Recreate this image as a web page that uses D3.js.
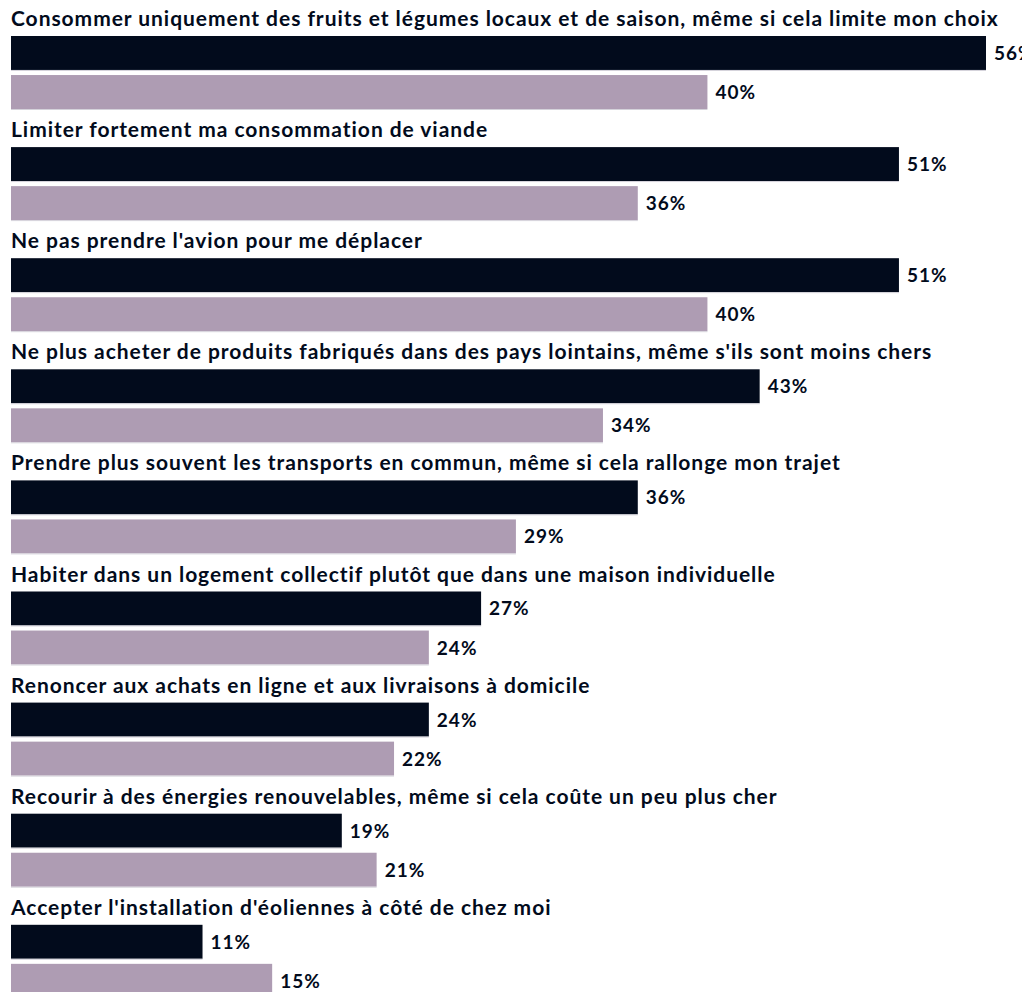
<!DOCTYPE html>
<html>
<head>
<meta charset="utf-8">
<script src="https://cdn.jsdelivr.net/npm/d3@7"></script>
<style>
  html, body { margin: 0; padding: 0; background: #ffffff; }
  svg { display: block; overflow: hidden; }
  text { font-family: "Lato", "Noto Sans", sans-serif; font-weight: 700; fill: #020b1c; }
</style>
</head>
<body>
<svg id="chart" width="1022" height="992"></svg>
<script>
// Survey items and the two series (percentages)
const categories = [
  "Consommer uniquement des fruits et légumes locaux et de saison, même si cela limite mon choix",
  "Limiter fortement ma consommation de viande",
  "Ne pas prendre l'avion pour me déplacer",
  "Ne plus acheter de produits fabriqués dans des pays lointains, même s'ils sont moins chers",
  "Prendre plus souvent les transports en commun, même si cela rallonge mon trajet",
  "Habiter dans un logement collectif plutôt que dans une maison individuelle",
  "Renoncer aux achats en ligne et aux livraisons à domicile",
  "Recourir à des énergies renouvelables, même si cela coûte un peu plus cher",
  "Accepter l'installation d'éoliennes à côté de chez moi"
];
const seriesA = [56, 51, 51, 43, 36, 27, 24, 19, 11];
const seriesB = [40, 36, 40, 34, 29, 24, 22, 21, 15];
const seriesColors = ["#020b1c", "#ae9cb3"];

const svg = d3.select("#chart");

const x = d3.scaleLinear().domain([0, 56]).range([11, 986]);
const groupY = d3.scaleBand().domain(categories).range([36, 36 + 111.1 * categories.length]).padding(0);
const barY = d3.scaleBand().domain([0, 1]).range([0, 73]).paddingInner(0.13);

const rows = categories.map((c, i) => ({ cat: c, values: [seriesA[i], seriesB[i]] }));

const g = svg.selectAll("g.group").data(rows).join("g")
  .attr("class", "group")
  .attr("transform", d => `translate(0,${groupY(d.cat)})`);

g.append("text")
  .attr("x", 11)
  .attr("y", -10)
  .style("font-size", "21px")
  .style("letter-spacing", "0.95px")
  .text(d => d.cat);

const bars = g.selectAll("g.bar").data(d => d.values.map((v, k) => ({ v, k }))).join("g")
  .attr("class", "bar");

bars.append("rect")
  .attr("x", x(0))
  .attr("y", d => barY(d.k))
  .attr("width", d => x(d.v) - x(0))
  .attr("height", barY.bandwidth())
  .attr("fill", d => seriesColors[d.k]);

// thin light edge under each bar
bars.append("line")
  .attr("x1", x(0))
  .attr("x2", d => x(d.v))
  .attr("y1", d => barY(d.k) + barY.bandwidth() + 0.5)
  .attr("y2", d => barY(d.k) + barY.bandwidth() + 0.5)
  .attr("stroke", "#d4d2da")
  .attr("stroke-width", 1);

bars.append("text")
  .attr("x", d => x(d.v) + 8)
  .attr("y", d => barY(d.k) + barY.bandwidth() / 2 + 7)
  .style("font-size", "19px")
  .style("letter-spacing", "1px")
  .text(d => d.v + "%");
</script>
</body>
</html>
